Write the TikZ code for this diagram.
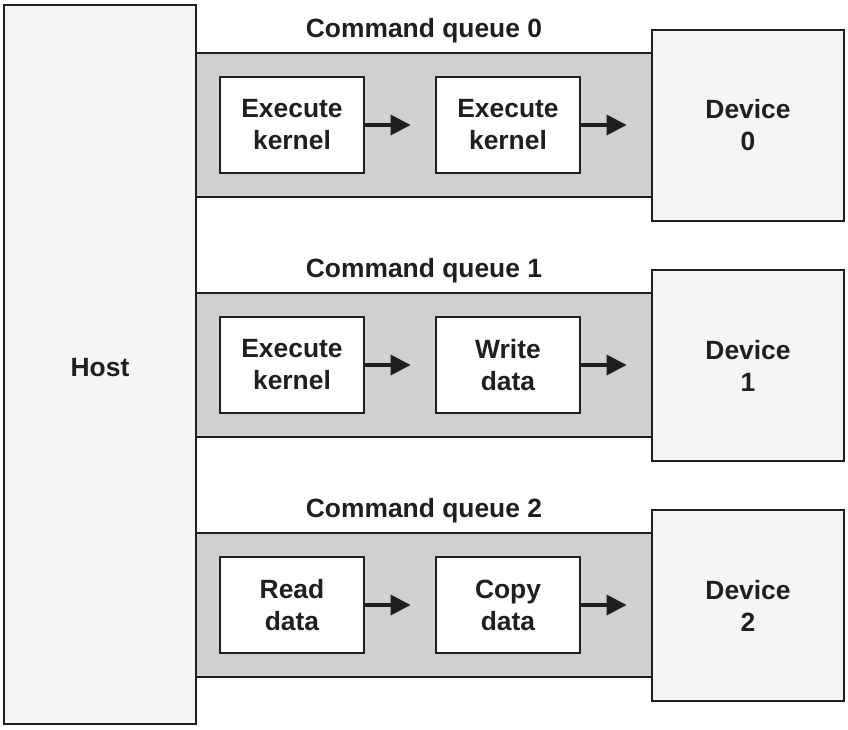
\documentclass[tikz,border=0pt]{standalone}
\usepackage{fontspec}
\setmainfont{Liberation Sans}
\usetikzlibrary{positioning, arrows.meta}

\begin{document}
\begin{tikzpicture}[x=0.75pt, y=-0.75pt,
    every node/.style={font=\fontsize{19.8pt}{24pt}\selectfont\bfseries, text=black!88},
    outer/.style={draw=black!88, line width=2.1pt, fill=black!4, align=center, minimum width=144pt},
    band/.style={draw=black!88, line width=2.1pt, fill=black!18.5, minimum width=342pt, minimum height=108pt},
    cmd/.style={draw=black!88, line width=2.1pt, fill=white, align=center, minimum width=108pt, minimum height=72pt},
    flow/.style={-{Triangle[length=15pt, width=15pt]}, line width=2.6pt, draw=black!88, shorten >=18pt}]
    \useasboundingbox (0,0) rectangle (848,729);

    % queues behind everything
    \node[band] (q0) at (424,125) {};
    \node[band] (q1) at (424,365) {};
    \node[band] (q2) at (424,605) {};

    \node[outer, minimum height=539.25pt, text height=18pt] (host) at (100,364.5) {Host};

    \node[outer, minimum height=143.25pt] (dev0) at (748,125.5) {Device\\0};
    \node[outer, minimum height=143.25pt] (dev1) at (748,365.5) {Device\\1};
    \node[outer, minimum height=143.25pt] (dev2) at (748,605.5) {Device\\2};

    \node (t0) at (424,30.5) {Command queue 0};
    \node (t1) at (424,270.5) {Command queue 1};
    \node (t2) at (424,510.5) {Command queue 2};

    % commands
    \node[cmd] (c0a) at (292,125) {Execute\\kernel};
    \node[cmd] (c0b) at (508,125) {Execute\\kernel};
    \node[cmd] (c1a) at (292,365) {Execute\\kernel};
    \node[cmd] (c1b) at (508,365) {Write\\data};
    \node[cmd] (c2a) at (292,605) {Read\\data};
    \node[cmd] (c2b) at (508,605) {Copy\\data};

    \draw[flow] (c0a) -- (c0b);
    \draw[flow] (c0b.east) -- (c0b.east -| dev0.west);
    \draw[flow] (c1a) -- (c1b);
    \draw[flow] (c1b.east) -- (c1b.east -| dev1.west);
    \draw[flow] (c2a) -- (c2b);
    \draw[flow] (c2b.east) -- (c2b.east -| dev2.west);
\end{tikzpicture}
\end{document}
